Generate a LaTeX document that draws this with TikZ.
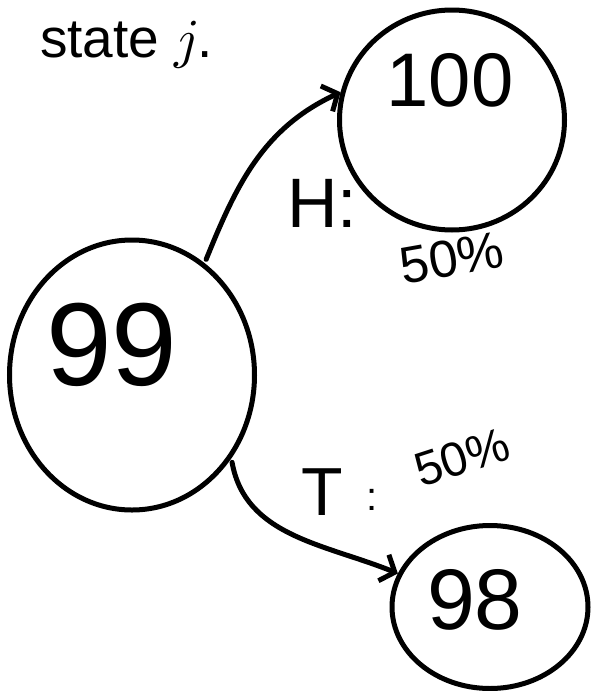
\documentclass[tikz,border=0pt]{standalone}
\usepackage{fontspec}
\setmainfont{Liberation Sans}
\newfontfamily\lmmath{Latin Modern Math}
\usetikzlibrary{arrows.meta,shapes.geometric}
\begin{document}
\begin{tikzpicture}[x=1pt,y=1pt,
  state/.style={ellipse,draw,line width=5pt,inner sep=0pt},
  conn/.style={line width=5pt,line cap=round,shorten <=4pt,-{Straight Barb[length=12pt,width=28pt]}},
  hand/.style={inner sep=0pt}]
\useasboundingbox (0,0) rectangle (591,-691);
\node[anchor=base west,inner sep=0pt,font=\fontsize{55}{60}\selectfont] (title) at (40,-57) {state {\lmmath\symbol{"1D457}}.};
\node[state,minimum width=245pt,minimum height=270pt] (n99) at (132,-375) {};
\node[state,minimum width=225pt,minimum height=220pt] (n100) at (452,-120) {};
\node[state,minimum width=196pt,minimum height=163pt] (n98) at (490,-607) {};
\node[hand,font=\fontsize{76}{76}\selectfont] (t100) at (450,-80) {100};
\node[hand,font=\fontsize{118}{118}\selectfont] (t99) at (112,-345) {99};
\node[hand,font=\fontsize{86}{86}\selectfont] (t98) at (475,-600) {98};
\draw[conn] (n99.57) to[out=68,in=205] (n100.166);
\draw[conn] (n99.-40) to[out=-80,in=158] (n98.160);
\node[hand,font=\fontsize{70}{70}\selectfont] (h) at (322,-203) {H:};
\node[hand,font=\fontsize{52}{52}\selectfont,rotate=10] (hp) at (452,-258) {50\%};
\node[hand,font=\fontsize{68}{68}\selectfont] (t) at (322,-492) {T};
\node[hand,font=\fontsize{40}{40}\selectfont] (tc) at (372,-500) {:};
\node[hand,font=\fontsize{48}{48}\selectfont,rotate=18] (tp) at (462,-457) {50\%};
\end{tikzpicture}
\end{document}
